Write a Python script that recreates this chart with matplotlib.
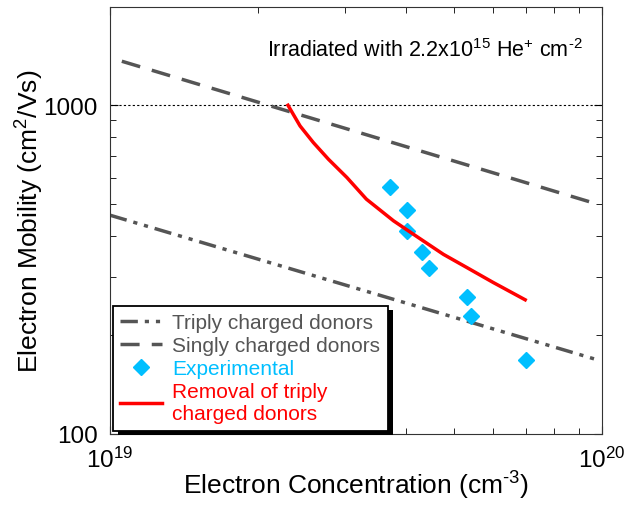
import numpy as np
import matplotlib
matplotlib.use("Agg")
from matplotlib import pyplot as plt
from matplotlib.patches import Rectangle
from matplotlib.transforms import IdentityTransform
from matplotlib.ticker import FixedLocator, NullFormatter

plt.rcParams['font.family'] = ['Liberation Sans', 'DejaVu Sans']
plt.rcParams['mathtext.fontset'] = 'custom'
plt.rcParams['mathtext.rm'] = 'Liberation Sans'
plt.rcParams['mathtext.it'] = 'Liberation Sans:italic'

# Model lines (electron concentration in cm^-3, mobility in cm^2/Vs)
triply_n = [1.0e19, 9.8e19]
triply_mu = [463, 168]

singly_n = [1.057e19, 9.8e19]
singly_mu = [1361, 500]

removal_n = [2.30e19, 2.434e19, 2.59e19, 2.78e19, 3.03e19, 3.32e19, 3.77e19,
             4.20e19, 4.76e19, 5.31e19, 6.01e19, 6.98e19]
removal_mu = [1000, 865, 770, 685, 603, 518, 445, 399, 352, 321, 289, 256]

# Measured points
exp_n = [3.71e19, 4.01e19, 4.01e19, 4.30e19, 4.45e19, 5.31e19, 5.41e19, 7.0e19]
exp_mu = [565, 480, 415, 359, 319, 261, 229, 168]

fig = plt.figure(figsize=(6.37, 5.06), dpi=100)
ax = fig.add_axes([110 / 637, 1 - 435 / 506, 492 / 637, 427 / 506])
ax.set_xscale('log')
ax.set_yscale('log')

grey = '#555555'
cyan = '#00BFFF'
ax.axhline(1000, color='black', lw=0.8, ls=(0, (2, 2)), zorder=1)
ax.plot(triply_n, triply_mu, color=grey, lw=2.5, ls=(0, (5, 2, 1.2, 2, 1.2, 2)),
        label='Triply charged donors')
ax.plot(singly_n, singly_mu, color=grey, lw=2.5, ls=(0, (5.5, 3.5)),
        label='Singly charged donors')
ax.plot(exp_n, exp_mu, 'D', color=cyan, ms=8, ls='none', label='Experimental')
ax.plot(removal_n, removal_mu, color='red', lw=2.5,
        label='Removal of triply\ncharged donors')

ax.set_xlim(1e19, 1e20)
ax.set_ylim(100, 1990)

ax.xaxis.set_major_locator(FixedLocator([1e19, 1e20]))
ax.xaxis.set_minor_locator(FixedLocator([k * 1e19 for k in range(2, 10)]))
ax.xaxis.set_minor_formatter(NullFormatter())
ax.yaxis.set_major_locator(FixedLocator([100, 1000]))
ax.yaxis.set_minor_locator(FixedLocator([k * 100 for k in range(2, 10)]))
ax.yaxis.set_minor_formatter(NullFormatter())
ax.set_yticklabels(['100', '1000'])
ax.set_xticklabels([r'$10^{19}$', r'$10^{20}$'])

ax.tick_params(which='both', direction='in', top=True, right=True, labelsize=17.5)
ax.tick_params(which='major', length=5.5)
ax.tick_params(which='minor', length=4)
ax.tick_params(axis='x', pad=9)
ax.tick_params(axis='y', pad=9)
for s in ax.spines.values():
    s.set_color('#333333')

ax.set_xlabel(r'Electron Concentration (cm$^{\text{-}3}$)', fontsize=19, labelpad=-2)
ax.set_ylabel(r'Electron Mobility (cm$^{2}$/Vs)', fontsize=19, labelpad=-2)

ax.text(0.961, 0.90, r'Irradiated with 2.2x10$^{15}$ He$^{+}$ cm$^{\text{-}2}$',
        transform=ax.transAxes, ha='right', va='center', fontsize=15.5)

leg = ax.legend(loc='lower left', bbox_to_anchor=(0.006, 0.008), borderaxespad=0,
                fontsize=15, fancybox=False, framealpha=1, edgecolor='black',
                labelspacing=0.2, handlelength=2.0, handletextpad=0.5,
                borderpad=0.35)
leg.get_frame().set_linewidth(1.3)
for txt, c in zip(leg.get_texts(), [grey, grey, cyan, 'red']):
    txt.set_color(c)
    txt.set_linespacing(1.2)

# hard black drop shadow to the lower right of the legend box
fig.canvas.draw()
bb = leg.get_window_extent()
ax.add_patch(Rectangle((bb.x0 + 5, bb.y0 - 4), bb.width, bb.height,
                       transform=IdentityTransform(), facecolor='black',
                       edgecolor='none', zorder=4.9, clip_on=False))

fig.savefig('out.png', dpi=100)
